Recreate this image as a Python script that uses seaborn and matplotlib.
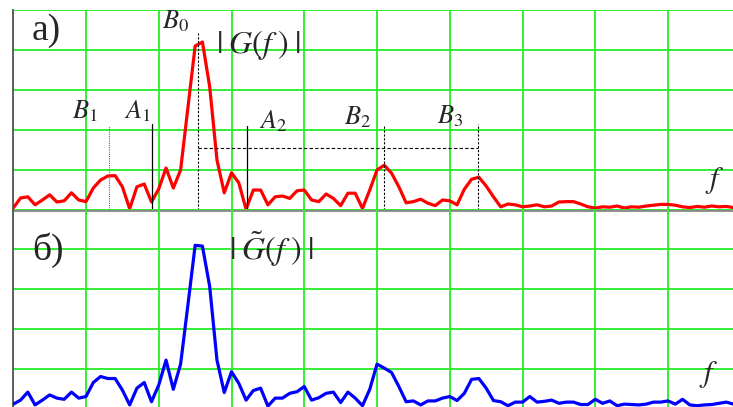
import numpy as np
import pandas as pd
import seaborn as sns
import matplotlib.pyplot as plt

# spectrum samples (100 frequency bins)
g_top = [0.05, 0.30, 0.33, 0.13, 0.25, 0.38, 0.20, 0.23, 0.43, 0.25,
         0.21, 0.55, 0.75, 0.85, 0.86, 0.58, 0.03, 0.58, 0.65, 0.20,
         0.53, 1.05, 0.55, 1.00, 2.55, 4.10, 4.20, 3.08, 1.25, 0.43,
         0.93, 0.68, 0.02, 0.50, 0.50, 0.13, 0.33, 0.35, 0.29, 0.48,
         0.50, 0.25, 0.21, 0.40, 0.29, 0.11, 0.42, 0.42, 0.04, 0.50,
         1.00, 1.12, 0.92, 0.58, 0.18, 0.21, 0.27, 0.17, 0.11, 0.25,
         0.23, 0.13, 0.52, 0.77, 0.82, 0.60, 0.33, 0.08, 0.15, 0.13,
         0.08, 0.10, 0.13, 0.08, 0.10, 0.20, 0.21, 0.21, 0.15, 0.08,
         0.05, 0.08, 0.07, 0.10, 0.05, 0.08, 0.07, 0.10, 0.12, 0.14,
         0.14, 0.12, 0.08, 0.06, 0.09, 0.07, 0.10, 0.08, 0.09, 0.06]

g_bottom = [0.13, 0.23, 0.43, 0.11, 0.23, 0.36, 0.28, 0.25, 0.43, 0.28,
            0.32, 0.67, 0.82, 0.77, 0.77, 0.48, 0.11, 0.53, 0.67, 0.19,
            0.61, 1.23, 0.50, 1.13, 2.60, 4.10, 4.08, 3.07, 1.23, 0.42,
            0.94, 0.65, 0.23, 0.47, 0.53, 0.08, 0.28, 0.28, 0.40, 0.44,
            0.57, 0.23, 0.29, 0.40, 0.43, 0.17, 0.43, 0.28, 0.09, 0.50,
            1.13, 1.03, 0.92, 0.57, 0.19, 0.21, 0.11, 0.21, 0.21, 0.28,
            0.32, 0.22, 0.40, 0.75, 0.77, 0.53, 0.22, 0.19, 0.09, 0.18,
            0.18, 0.32, 0.18, 0.20, 0.23, 0.15, 0.18, 0.18, 0.12, 0.12,
            0.25, 0.15, 0.21, 0.09, 0.13, 0.12, 0.11, 0.13, 0.18, 0.18,
            0.21, 0.13, 0.25, 0.11, 0.09, 0.11, 0.12, 0.15, 0.18, 0.13]

freq = np.arange(len(g_top))

# marker lines on the upper spectrum: label, x, height
solid_marks = [("A1", 19.1, 2.15), ("A2", 32.1, 2.1)]
dashed_marks = [("B0", 25.35, 4.43), ("B2", 50.9, 2.1), ("B3", 63.9, 2.15)]
dotted_marks = [("B1", 13.1, 2.1)]
span_level = 1.56

sns.set_style("white")
plt.rcParams["mathtext.fontset"] = "stix"
plt.rcParams["font.family"] = ["Liberation Serif", "DejaVu Serif"]

grid_col = "#33ee33"
fig = plt.figure(figsize=(7.33, 4.07), dpi=100)
ax1 = fig.add_axes([0.0181, 0.484, 0.9826, 0.4914])
ax2 = fig.add_axes([0.0181, -0.0057, 0.9826, 0.4914])

df = pd.DataFrame({"f": freq, "top": g_top, "bottom": g_bottom})
sns.lineplot(data=df, x="f", y="top", ax=ax1, color="#ff0000", lw=2.3, zorder=3)
sns.lineplot(data=df, x="f", y="bottom", ax=ax2, color="#0000ff", lw=2.3, zorder=3)

for ax in (ax1, ax2):
    ax.set_xlim(0, 99)
    ax.set_ylim(0, 5)
    ax.set_xticks(range(0, 100, 10))
    ax.set_yticks(range(0, 6))
    ax.set_xticklabels([])
    ax.set_yticklabels([])
    ax.set_xlabel("")
    ax.set_ylabel("")
    ax.grid(True, color=grid_col, lw=1.4, zorder=0)
    ax.set_axisbelow(True)
    ax.patch.set_alpha(0)
    for s in ("top", "right"):
        ax.spines[s].set_visible(False)
    ax.spines["left"].set_color("#555555")
    ax.spines["left"].set_linewidth(1.3)
    ax.spines["bottom"].set_color("#888888")
    ax.spines["bottom"].set_linewidth(2)
    ax.tick_params(axis="y", direction="inout", length=5, width=1, color="#222222")
    ax.tick_params(axis="x", direction="inout", length=6, width=1, color="#222222")
ax1.tick_params(axis="x", length=0)

# marker lines
for name, x, h in solid_marks:
    ax1.plot([x, x], [0, h], color="black", lw=0.9, zorder=4)
for name, x, h in dashed_marks:
    ax1.plot([x, x], [0, h], color="black", lw=0.8, ls=(0, (2, 1.5)), zorder=4)
for name, x, h in dotted_marks:
    ax1.plot([x, x], [0, h], color="#666666", lw=0.8, ls=(0, (1, 1)), zorder=4)
ax1.plot([dashed_marks[0][1], dashed_marks[2][1]], [span_level, span_level],
         color="black", lw=0.8, ls=(0, (3, 2)), zorder=4)

# labels
lab = dict(fontsize=19, ha="left", va="baseline", zorder=5)
ax1.text(8.1, 2.29, r"$B_1$", **lab)
ax1.text(15.2, 2.29, r"$A_1$", **lab)
ax1.text(20.4, 4.54, r"$B_0$", **lab)
ax1.text(33.8, 2.04, r"$A_2$", **lab)
ax1.text(45.4, 2.14, r"$B_2$", **lab)
ax1.text(58.3, 2.17, r"$B_3$", **lab)
ax1.text(27.8, 3.92, r"$|\;G(f\;)\;|$", fontsize=23, ha="left", va="baseline")
ax1.text(95.1, 0.55, r"$f$", fontsize=22, ha="left", va="baseline")
ax1.text(2.5, 4.25, "а)", fontsize=27, ha="left", va="baseline")

ax2.text(29.6, 3.73, r"$|\;\tilde{G}(f\;)\;|$", fontsize=23, ha="left", va="baseline")
ax2.text(94.2, 0.69, r"$f$", fontsize=22, ha="left", va="baseline")
ax2.text(2.6, 3.73, "б)", fontsize=27, ha="left", va="baseline")

fig.savefig("out.png", dpi=100)
